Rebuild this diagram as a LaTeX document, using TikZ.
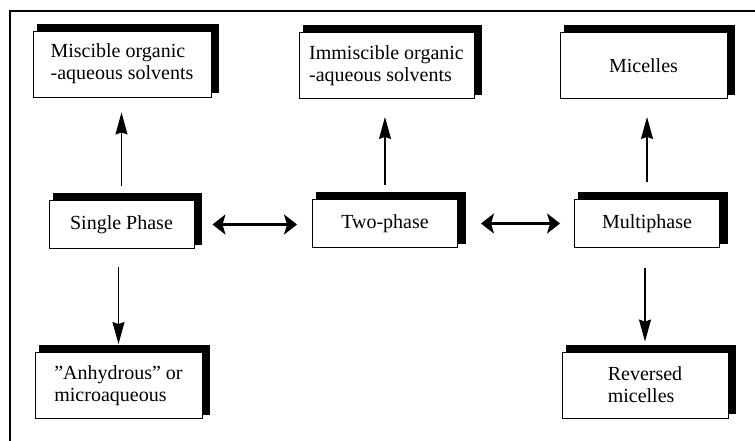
\documentclass[tikz,border=0pt]{standalone}
\usepackage{fontspec}
\setmainfont{Liberation Serif}
\usetikzlibrary{arrows.meta, backgrounds}

\begin{document}
\begin{tikzpicture}[x=1pt, y=-1pt,% pixel units, y down
	box/.style={draw, line width=0.9pt, fill=white, align=left, inner sep=0pt,
		font=\fontsize{20}{22}\selectfont},
	phase/.style={box, minimum width=145pt, minimum height=48pt},
	kind/.style={box, minimum height=66pt},
	vert/.style={line width=1.2pt, -{Stealth[length=22pt,width=12pt,inset=2pt]}},
	both/.style={line width=2.5pt,
		{Stealth[length=13pt,width=20pt,inset=3pt]}-{Stealth[length=13pt,width=20pt,inset=3pt]}}]

\useasboundingbox (0,0) rectangle (755,441);
\draw [line width=1.2pt] (10,441) -- (10,11) -- (755,11);

% Les tres fases
\node [phase] (Single)	at (121.5,224.5)	{Single Phase};
\node [phase] (Two)	at (385,223.5)		{Two-phase};
\node [phase] (Multi)	at (647,223.5)		{Multiphase};
%%%%%%%%%%%%%%%%%%%%%%%%%%%%%%%%%%%%%%%%%%%%%%%%%%%%%%%%%%%%%%%%%%%%%%%%%%%%%%%%
\node [kind, minimum width=178pt] (Miscible)	at (122,64)	{Miscible organic\\-aqueous solvents};
\node [kind, minimum width=175pt] (Immiscible)	at (386.5,65.5)	{Immiscible organic\\-aqueous solvents};
\node [kind, minimum width=167pt] (Micelles)	at (643.5,65.5)	{Micelles};
\node [kind, minimum width=167pt] (Anhydrous)	at (118.5,385.5)	{”Anhydrous” or\\microaqueous};
\node [kind, minimum width=166pt] (Reversed)	at (645,385)	{Reversed\\micelles};
%%%%%%%%%%%%%%%%%%%%%%%%%%%%%%%%%%%%%%%%%%%%%%%%%%%%%%%%%%%%%%%%%%%%%%%%%%%%%%%%

% Ombres
\begin{pgfonlayer}{background}
\foreach \n in {Single,Two,Multi,Miscible,Immiscible,Micelles,Anhydrous,Reversed}
	\fill ([shift={(4,-7)}]\n.north west) rectangle ([shift={(8,-4)}]\n.south east);
\end{pgfonlayer}

% Connexions
\draw [vert, shorten <=14pt, shorten >=15pt] (Single.north)	-- (Single.north |- Miscible.south);
\draw [vert, shorten <=14pt, shorten >=18pt] (Two.north)	-- (Two.north |- Immiscible.south);
\draw [vert, shorten <=17pt, shorten >=18pt] (Multi.north)	-- (Multi.north |- Micelles.south);
\draw [vert, shorten <=18pt, shorten >=8pt] (Anhydrous.north |- Single.south)	-- (Anhydrous.north);
\draw [vert, shorten <=20pt, shorten >=10pt] (Reversed.north |- Multi.south)	-- (Reversed.north);

\draw [both, shorten <=18pt, shorten >=15pt] (Single.east)	-- (Single.east -| Two.west);
\draw [both, shorten <=23pt, shorten >=14pt] (Two.east)	-- (Two.east -| Multi.west);

\end{tikzpicture}
\end{document}
